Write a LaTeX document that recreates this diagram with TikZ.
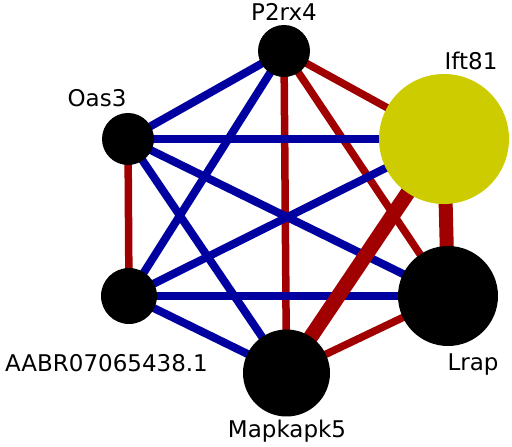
\documentclass[tikz,border=0pt]{standalone}
\usepackage{fontspec}
\setmainfont{DejaVu Sans}
\usetikzlibrary{backgrounds}
\definecolor{eblue}{HTML}{0000A0}
\definecolor{ered}{HTML}{A00000}
\definecolor{ylw}{HTML}{CCCC00}
\begin{document}
\begin{tikzpicture}[x=1pt,y=1pt,
  gene/.style={circle,fill=black,inner sep=0pt},
  lbl/.style={anchor=base,inner sep=0pt,font=\fontsize{23}{23}\selectfont},
  posedge/.style={draw=ered,line width=7.5pt},
  negedge/.style={draw=eblue,line width=8pt}]
\useasboundingbox (0,0) rectangle (512,447);
% nodes
\node[gene,minimum size=52pt] (p2) at (284,396) {};
\node[gene,fill=ylw,minimum size=130pt] (ift) at (444,308) {};
\node[gene,minimum size=52pt] (oas) at (128,308) {};
\node[gene,minimum size=56pt] (aabr) at (129,151) {};
\node[gene,minimum size=87pt] (map) at (286.5,74) {};
\node[gene,minimum size=100pt] (lrap) at (448,151) {};
% edges
\begin{scope}[on background layer]
\path[negedge] (p2.center) -- (oas.center);
\path[negedge] (p2.center) -- (aabr.center);
\path[posedge] (p2.center) -- (map.center);
\path[posedge] (p2.center) -- (ift.center);
\path[posedge] (p2.center) -- (lrap.center);
\path[posedge] (oas.center) -- (aabr.center);
\path[negedge] (oas.center) -- (ift.center);
\path[negedge] (oas.center) -- (map.center);
\path[negedge] (oas.center) -- (lrap.center);
\path[negedge] (aabr.center) -- (ift.center);
\path[negedge] (aabr.center) -- (lrap.center);
\path[negedge] (aabr.center) -- (map.center);
\path[posedge,line width=15pt] (ift.center) -- (map.center);
\path[posedge,line width=14pt] (ift.center) -- (lrap.center);
\path[posedge] (map.center) -- (lrap.center);
\end{scope}
% labels
\node[lbl] (lp2) at (284,426) {P2rx4};
\node[lbl] (lift) at (471,377) {Ift81};
\node[lbl] (loas) at (97,340) {Oas3};
\node[lbl] (laabr) at (106.5,75) {AABR07065438.1};
\node[lbl] (lmap) at (287,9) {Mapkapk5};
\node[lbl] (llrap) at (473,76) {Lrap};
\end{tikzpicture}
\end{document}
